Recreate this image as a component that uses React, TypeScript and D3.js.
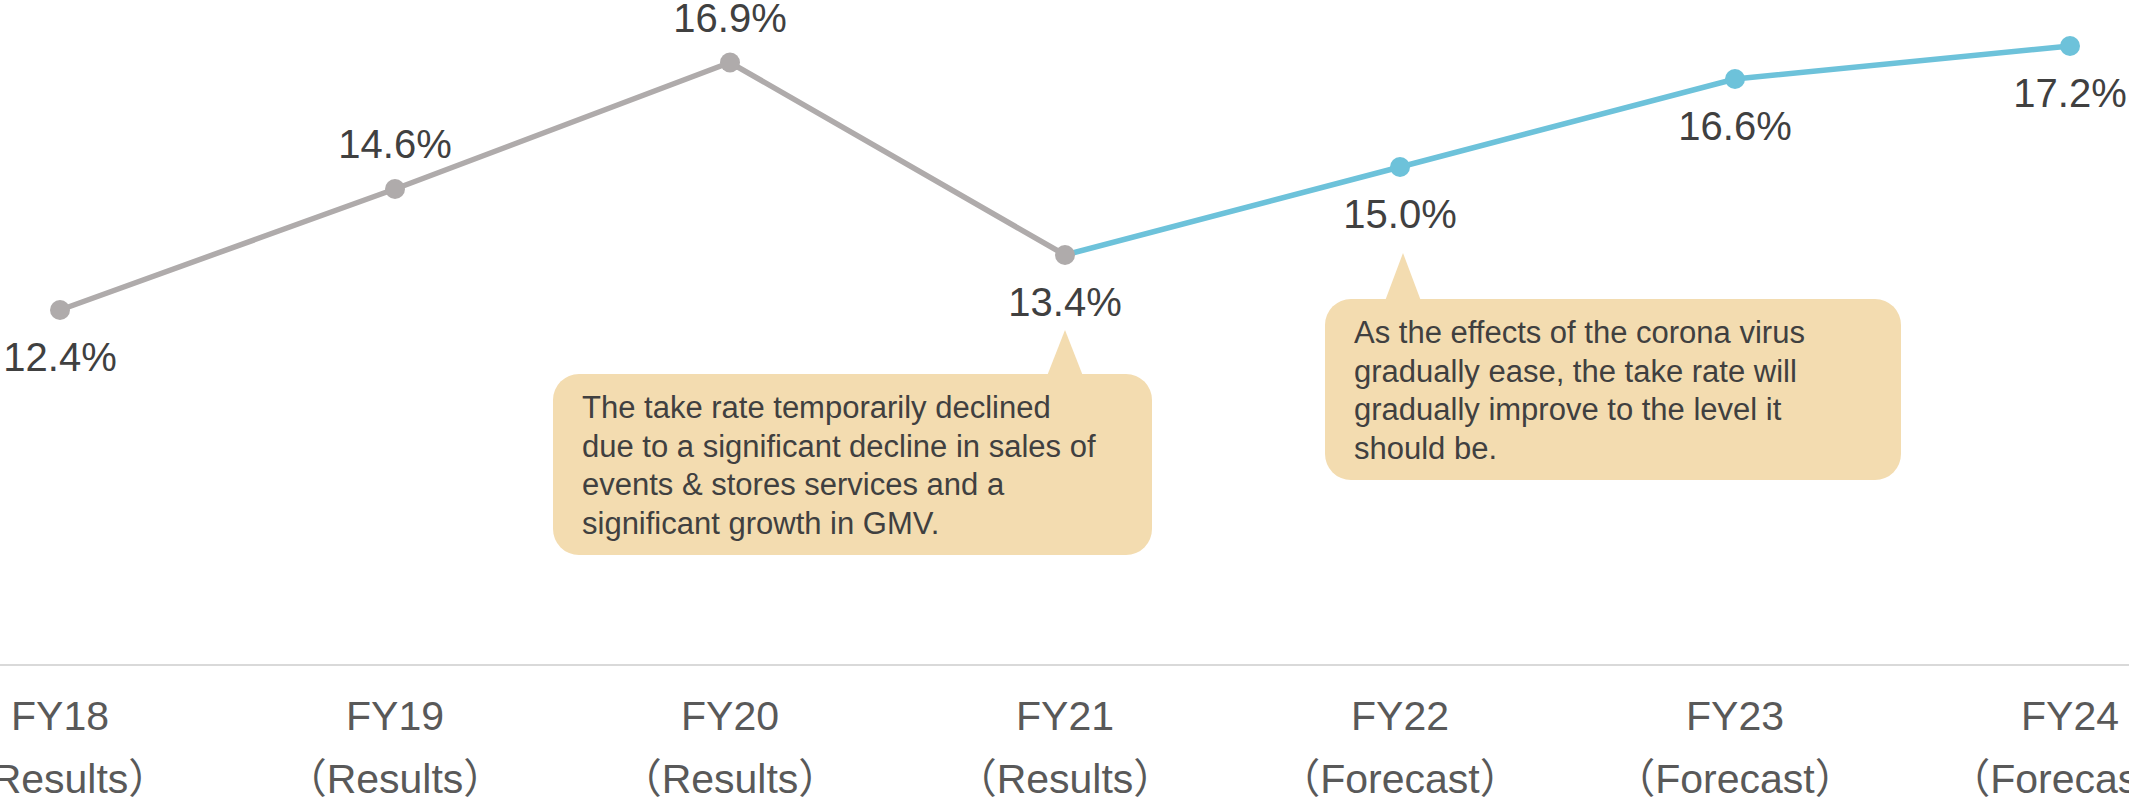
import React, { useRef, useEffect } from 'react';
import * as d3 from 'd3';

// chart data
const years = ['FY18', 'FY19', 'FY20', 'FY21', 'FY22', 'FY23', 'FY24'];
const periods = ['（Results）', '（Results）', '（Results）', '（Results）', '（Forecast）', '（Forecast）', '（Forecast）'];
const takeRate = [12.4, 14.6, 16.9, 13.4, 15.0, 16.6, 17.2];
const labelAbove = [false, true, true, false, false, false, false];
const resultsCount = 4; // FY18..FY21 are results, rest forecast

const note1 = [
  'The take rate temporarily declined',
  'due to a significant decline in sales of',
  'events & stores services and a',
  'significant growth in GMV.',
];
const note2 = [
  'As the effects of the corona virus',
  'gradually ease, the take rate will',
  'gradually improve to the level it',
  'should be.',
];

const FONT = "'Liberation Sans', Arial, 'Noto Sans CJK JP', sans-serif";

function TakeRateChart() {
  const canvas = useRef<HTMLDivElement>(null);

  useEffect(() => {
    const width = 2129;
    const height = 798;

    d3.select(canvas.current).select('svg').remove();
    const svg = d3
      .select(canvas.current)
      .append('svg')
      .attr('width', width)
      .attr('height', height)
      .style('position', 'absolute')
      .style('left', '0px')
      .style('top', '0px')
      .style('background', '#fff');

    const x = d3.scalePoint<string>().domain(years).range([60, 2070]);
    const y = d3.scaleLinear().domain([12, 18]).range([332, 2]);

    const pts = years.map((c, i) => ({ c, v: takeRate[i], i }));
    const line = d3
      .line<{ c: string; v: number }>()
      .x((d) => x(d.c)!)
      .y((d) => y(d.v));

    // speech bubbles
    const bubble = (
      bx: number, by: number, bw: number, bh: number,
      tipX: number, tipY: number, lines: string[], tx: number, ty0: number
    ) => {
      const g = svg.append('g');
      g.append('rect')
        .attr('x', bx).attr('y', by).attr('width', bw).attr('height', bh)
        .attr('rx', 26).attr('fill', '#F3DCB0');
      g.append('path')
        .attr('d', `M${tipX - 18},${by + 2}L${tipX},${tipY}L${tipX + 18},${by + 2}Z`)
        .attr('fill', '#F3DCB0');
      g.selectAll('text.n')
        .data(lines)
        .enter()
        .append('text')
        .attr('x', tx)
        .attr('y', (d, i) => ty0 + i * 38.6)
        .attr('font-family', FONT)
        .attr('font-size', 31)
        .attr('fill', '#404040')
        .text((d) => d);
    };

    const tip1X = x('FY21')!;
    bubble(553, 374, 599, 181, tip1X, y(13.4) + 75, note1, 582, 418);
    const tip2X = x('FY22')!;
    bubble(1325, 299, 576, 181, tip2X + 3, y(15.0) + 86, note2, 1354, 343);

    // lines
    svg.append('path')
      .datum(pts.slice(resultsCount - 1))
      .attr('d', line as any)
      .attr('fill', 'none')
      .attr('stroke', '#6DC2DA')
      .attr('stroke-width', 5.5);
    svg.append('path')
      .datum(pts.slice(0, resultsCount))
      .attr('d', line as any)
      .attr('fill', 'none')
      .attr('stroke', '#AFABAB')
      .attr('stroke-width', 5.5);

    svg.selectAll('circle.m')
      .data(pts)
      .enter()
      .append('circle')
      .attr('cx', (d) => x(d.c)!)
      .attr('cy', (d) => y(d.v))
      .attr('r', 10)
      .attr('fill', (d) => (d.i < resultsCount ? '#AFABAB' : '#6DC2DA'));

    // value labels
    svg.selectAll('text.v')
      .data(pts)
      .enter()
      .append('text')
      .attr('x', (d) => x(d.c)!)
      .attr('y', (d) => (labelAbove[d.i] ? y(d.v) - 31 : y(d.v) + 61))
      .attr('text-anchor', 'middle')
      .attr('font-family', FONT)
      .attr('font-size', 40)
      .attr('fill', '#404040')
      .text((d) => d.v.toFixed(1) + '%');

    // category axis
    const axisY = 665;
    svg.append('line')
      .attr('x1', 0).attr('x2', width)
      .attr('y1', axisY).attr('y2', axisY)
      .attr('stroke', '#D9D9D9')
      .attr('stroke-width', 2);

    const ax = svg.append('g');
    years.forEach((c, i) => {
      ax.append('text')
        .attr('x', x(c)!)
        .attr('y', 730)
        .attr('text-anchor', 'middle')
        .attr('font-family', FONT)
        .attr('font-size', 41)
        .attr('fill', '#595959')
        .text(c);
      ax.append('text')
        .attr('x', x(c)!)
        .attr('y', 793)
        .attr('text-anchor', 'middle')
        .attr('font-family', FONT)
        .attr('font-size', 41)
        .attr('fill', '#595959')
        .text(periods[i]);
    });
  }, []);

  return <div ref={canvas}></div>;
}

export default function App() {
  return <TakeRateChart />;
}
